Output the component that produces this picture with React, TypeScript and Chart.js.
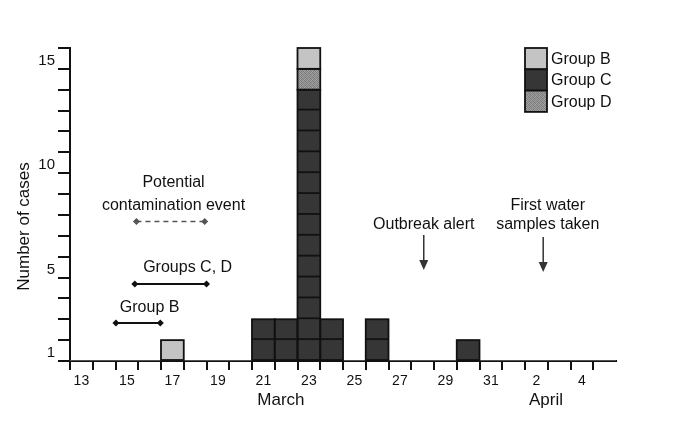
import React, { useEffect, useRef } from 'react';
import { Chart, registerables } from 'chart.js';

Chart.register(...registerables);

// Days: 13–31 March, then 1–5 April
const dayLabels = ['13','14','15','16','17','18','19','20','21','22','23','24','25','26','27','28','29','30','31','1','2','3','4','5'];
// cases per day by group
const groupC = [0,0,0,0,0,0,0,0,2,2,13,2,0,2,0,0,0,1,0,0,0,0,0,0];
const groupD = [0,0,0,0,0,0,0,0,0,0,1,0,0,0,0,0,0,0,0,0,0,0,0,0];
const groupB = [0,0,0,0,1,0,0,0,0,0,1,0,0,0,0,0,0,0,0,0,0,0,0,0];
const yTickLabels = [1, 5, 10, 15];
const monthLabels = ['March', 'April'];
const legendLabels = ['Group B', 'Group C', 'Group D'];

const FONT = '"Liberation Sans", Arial, Helvetica, sans-serif';

function makePattern(): CanvasPattern | string {
  const c = document.createElement('canvas');
  c.width = 4; c.height = 4;
  const g = c.getContext('2d');
  if (!g) return '#8a8a8a';
  const shades = ['#7a7a7a','#9c9c9c','#868686','#a4a4a4','#9a9a9a','#747474','#a0a0a0','#828282','#888888','#a2a2a2','#767676','#9e9e9e','#a6a6a6','#7e7e7e','#989898','#7c7c7c'];
  for (let i = 0; i < 16; i++) {
    g.fillStyle = shades[i];
    g.fillRect(i % 4, Math.floor(i / 4), 1, 1);
  }
  const p = g.createPattern(c, 'repeat');
  return p || '#8a8a8a';
}

export default function App() {
  const ref = useRef<HTMLCanvasElement>(null);

  useEffect(() => {
    if (!ref.current) return;
    const patD = makePattern();
    const colors: Record<string, any> = { 'Group B': '#c4c4c4', 'Group C': '#363636', 'Group D': patD };

    const overlay = {
      id: 'overlay',
      afterDatasetsDraw(chart: any) {
        const ctx = chart.ctx;
        const xs = chart.scales.x;
        const ys = chart.scales.y;
        const band = (xs.right - xs.left) / dayLabels.length;
        const unit = Math.abs(ys.getPixelForValue(0) - ys.getPixelForValue(1));
        // square outlines
        ctx.save();
        ctx.strokeStyle = '#111';
        ctx.lineWidth = 1.8;
        chart.data.datasets.forEach((ds: any, di: number) => {
          const meta = chart.getDatasetMeta(di);
          meta.data.forEach((bar: any, i: number) => {
            const v = ds.data[i];
            if (!v) return;
            const x0 = bar.x - bar.width / 2;
            const top = bar.y;
            const base = bar.base;
            ctx.strokeRect(x0, top, bar.width, base - top);
            for (let k = 1; k < v; k++) {
              const yy = base - k * unit;
              ctx.beginPath();
              ctx.moveTo(x0, yy);
              ctx.lineTo(x0 + bar.width, yy);
              ctx.stroke();
            }
          });
        });
        ctx.restore();

        const px = (u: number) => xs.left + u * band;
        const py = (v: number) => ys.getPixelForValue(v);

        const text = (s: string, u: number, v: number, size = 16) => {
          ctx.save();
          ctx.fillStyle = '#111';
          ctx.font = `${size}px ${FONT}`;
          ctx.textAlign = 'center';
          ctx.textBaseline = 'middle';
          ctx.fillText(s, px(u), py(v));
          ctx.restore();
        };
        const diamond = (x: number, y: number, color: string) => {
          ctx.beginPath();
          ctx.moveTo(x - 3.5, y); ctx.lineTo(x, y - 3.5); ctx.lineTo(x + 3.5, y); ctx.lineTo(x, y + 3.5);
          ctx.closePath();
          ctx.fillStyle = color;
          ctx.fill();
        };
        const interval = (u0: number, u1: number, v: number, dashed: boolean) => {
          const color = dashed ? '#555' : '#111';
          ctx.save();
          ctx.strokeStyle = color;
          ctx.lineWidth = dashed ? 1.5 : 2;
          if (dashed) ctx.setLineDash([5, 4]);
          ctx.beginPath();
          ctx.moveTo(px(u0), py(v));
          ctx.lineTo(px(u1), py(v));
          ctx.stroke();
          ctx.setLineDash([]);
          diamond(px(u0), py(v), color);
          diamond(px(u1), py(v), color);
          ctx.restore();
        };
        const arrow = (u: number, v0: number, v1: number) => {
          const x = px(u); const y0 = py(v0); const y1 = py(v1);
          ctx.save();
          ctx.strokeStyle = '#333';
          ctx.fillStyle = '#333';
          ctx.lineWidth = 1.5;
          ctx.beginPath();
          ctx.moveTo(x, y0); ctx.lineTo(x, y1 - 8);
          ctx.stroke();
          ctx.beginPath();
          ctx.moveTo(x - 4.5, y1 - 10); ctx.lineTo(x + 4.5, y1 - 10); ctx.lineTo(x, y1);
          ctx.closePath();
          ctx.fill();
          ctx.restore();
        };

        text('Potential', 4.55, 8.53);
        text('contamination event', 4.55, 7.47);
        interval(2.92, 5.92, 6.68, true);
        text('Groups C, D', 5.17, 4.46);
        interval(2.85, 6.0, 3.69, false);
        text('Group B', 3.5, 2.54);
        interval(2.02, 3.97, 1.82, false);

        text('Outbreak alert', 15.55, 6.52);
        arrow(15.55, 6.04, 4.36);
        text('First water', 21.0, 7.47);
        text('samples taken', 21.0, 6.52);
        arrow(20.8, 5.94, 4.26);

        // month labels
        ctx.save();
        ctx.fillStyle = '#111';
        ctx.font = `17px ${FONT}`;
        ctx.textAlign = 'center';
        ctx.textBaseline = 'middle';
        ctx.fillText(monthLabels[0], px(9.27), ys.bottom + 39);
        ctx.fillText(monthLabels[1], px(20.92), ys.bottom + 39);
        // y title
        ctx.translate(24, (ys.top + ys.bottom) / 2 + 22);
        ctx.rotate(-Math.PI / 2);
        ctx.fillText('Number of cases', 0, 0);
        ctx.restore();

        // legend
        ctx.save();
        const lx = 525, bw = 22, bh = 21.3;
        let ly = ys.top;
        legendLabels.forEach((lab) => {
          ctx.fillStyle = colors[lab];
          ctx.fillRect(lx, ly, bw, bh);
          ctx.strokeStyle = '#111';
          ctx.lineWidth = 1.8;
          ctx.strokeRect(lx, ly, bw, bh);
          ctx.fillStyle = '#111';
          ctx.font = `16px ${FONT}`;
          ctx.textAlign = 'left';
          ctx.textBaseline = 'middle';
          ctx.fillText(lab, lx + bw + 4, ly + bh / 2 + 1);
          ly += bh;
        });
        ctx.restore();
      },
    };

    const chart = new Chart(ref.current, {
      type: 'bar',
      data: {
        labels: dayLabels,
        datasets: [
          { label: 'Group C', data: groupC, backgroundColor: colors['Group C'], borderWidth: 0 },
          { label: 'Group D', data: groupD, backgroundColor: colors['Group D'], borderWidth: 0 },
          { label: 'Group B', data: groupB, backgroundColor: colors['Group B'], borderWidth: 0 },
        ],
      },
      options: {
        responsive: false,
        animation: false,
        events: [],
        layout: { padding: { top: 48, right: 69, left: 0, bottom: 0 } },
        datasets: { bar: { categoryPercentage: 1, barPercentage: 1 } },
        plugins: { legend: { display: false }, tooltip: { enabled: false } },
        scales: {
          x: {
            stacked: true,
            offset: true,
            afterFit: (s: any) => { s.height = 69; },
            grid: {
              offset: true, drawOnChartArea: false, drawTicks: true, tickLength: 9, lineWidth: 2,
              color: (c: any) => (c.type === 'tick' ? '#111' : 'rgba(0,0,0,0)'),
            },
            border: { display: true, color: '#111', width: 2 },
            ticks: {
              autoSkip: false,
              maxRotation: 0,
              padding: 3,
              color: '#111',
              font: { family: FONT, size: 14 },
              callback: (_v: any, i: number) => (i % 2 === 0 ? dayLabels[i] : ''),
            },
          },
          y: {
            stacked: true,
            min: 0,
            max: 15,
            afterFit: (s: any) => { s.width = 70; },
            afterBuildTicks: (s: any) => {
              const t = [];
              for (let i = 0; i <= 15; i++) t.push({ value: i });
              s.ticks = t;
            },
            grid: { drawOnChartArea: false, drawTicks: true, tickLength: 12, color: '#111', lineWidth: 2 },
            border: { display: true, color: '#111', width: 2 },
            ticks: {
              autoSkip: false,
              padding: 3,
              labelOffset: 13,
              color: '#111',
              font: { family: FONT, size: 15 },
              callback: (v: any) => (yTickLabels.includes(Number(v)) ? String(v) : ''),
            },
          },
        },
      },
      plugins: [overlay],
    });
    return () => chart.destroy();
  }, []);

  return (
    <div style={{ position: 'absolute', left: 0, top: 0, width: 685, height: 430, background: '#fff' }}>
      <canvas ref={ref} width={685} height={430} />
    </div>
  );
}
